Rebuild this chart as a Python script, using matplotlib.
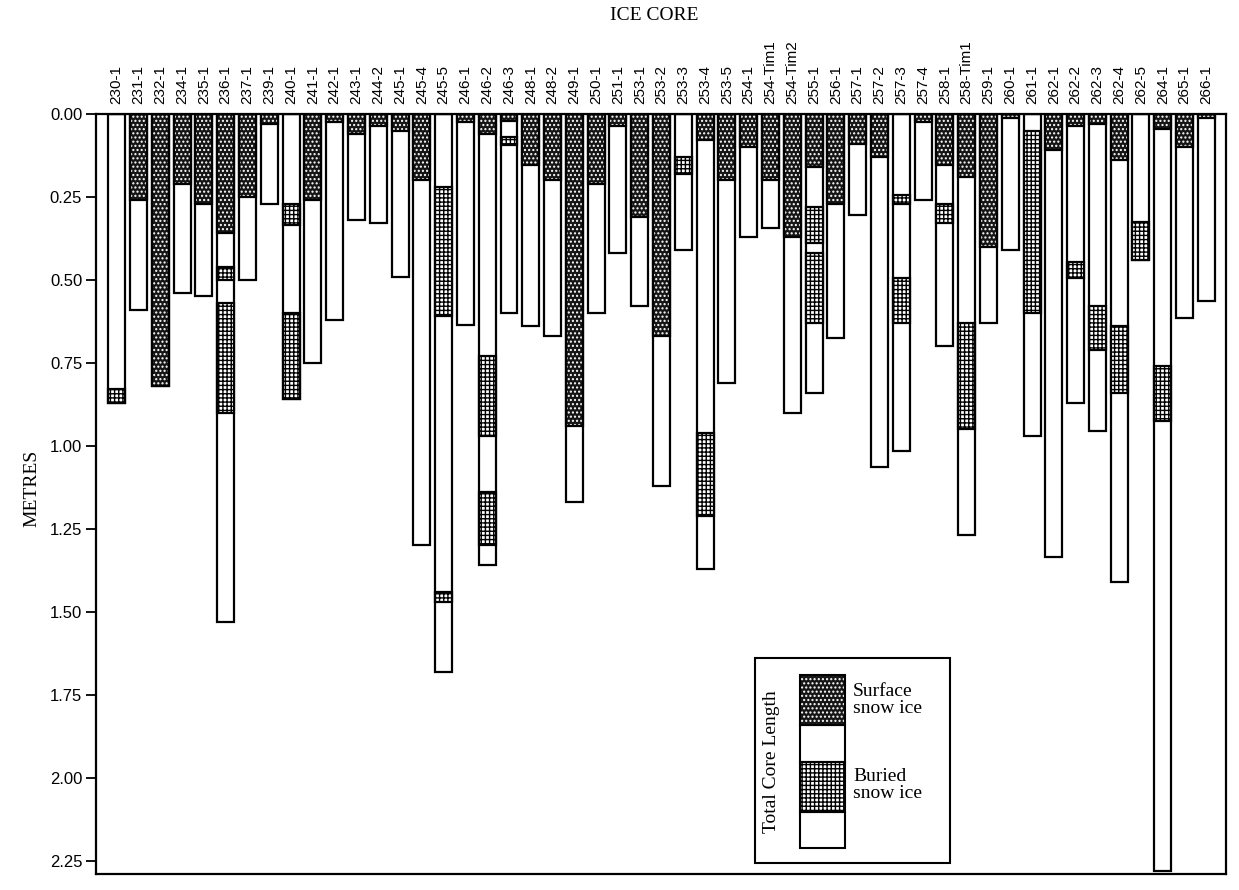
import matplotlib
matplotlib.use("Agg")
import matplotlib.pyplot as plt
from matplotlib.patches import Rectangle
import numpy as np

plt.rcParams['hatch.linewidth'] = 1.0

cores = ['230-1', '231-1', '232-1', '234-1', '235-1', '236-1', '237-1', '239-1',
         '240-1', '241-1', '242-1', '243-1', '244-2', '245-1', '245-4', '245-5',
         '246-1', '246-2', '246-3', '248-1', '248-2', '249-1', '250-1', '251-1',
         '253-1', '253-2', '253-3', '253-4', '253-5', '254-1', '254-Tim1', '254-Tim2',
         '255-1', '256-1', '257-1', '257-2', '257-3', '257-4', '258-1', '258-Tim1',
         '259-1', '260-1', '261-1', '262-1', '262-2', '262-3', '262-4', '262-5',
         '264-1', '265-1', '266-1']

# total core length (m)
total_length = [0.87, 0.59, 0.82, 0.54, 0.55, 1.53, 0.50, 0.27,
                0.86, 0.75, 0.62, 0.32, 0.33, 0.49, 1.30, 1.68,
                0.635, 1.36, 0.60, 0.64, 0.67, 1.17, 0.60, 0.42,
                0.58, 1.12, 0.41, 1.37, 0.81, 0.37, 0.345, 0.90,
                0.84, 0.675, 0.305, 1.065, 1.015, 0.26, 0.70, 1.27,
                0.63, 0.41, 0.97, 1.335, 0.87, 0.955, 1.41, 0.44,
                2.28, 0.615, 0.565]

# thickness of surface snow ice at the top of each core (m)
surface_ice = [0.0, 0.26, 0.82, 0.21, 0.27, 0.36, 0.25, 0.03,
               0.0, 0.26, 0.025, 0.06, 0.035, 0.05, 0.20, 0.0,
               0.025, 0.06, 0.02, 0.155, 0.20, 0.94, 0.21, 0.035,
               0.31, 0.67, 0.0, 0.08, 0.20, 0.10, 0.20, 0.37,
               0.16, 0.27, 0.09, 0.13, 0.0, 0.025, 0.155, 0.19,
               0.40, 0.013, 0.0, 0.11, 0.035, 0.03, 0.14, 0.0,
               0.045, 0.10, 0.012]

# buried snow ice layers (top, bottom) in metres
buried_ice = {
    '230-1': [(0.83, 0.87)],
    '236-1': [(0.46, 0.50), (0.57, 0.90)],
    '240-1': [(0.27, 0.335), (0.60, 0.86)],
    '245-5': [(0.22, 0.61), (1.44, 1.47)],
    '246-2': [(0.73, 0.97), (1.14, 1.30)],
    '246-3': [(0.07, 0.095)],
    '253-3': [(0.13, 0.18)],
    '253-4': [(0.96, 1.21)],
    '255-1': [(0.28, 0.39), (0.42, 0.63)],
    '257-3': [(0.245, 0.27), (0.495, 0.63)],
    '258-1': [(0.27, 0.33)],
    '258-Tim1': [(0.63, 0.95)],
    '261-1': [(0.05, 0.60)],
    '262-2': [(0.445, 0.495)],
    '262-3': [(0.58, 0.71)],
    '262-4': [(0.64, 0.84)],
    '262-5': [(0.325, 0.44)],
    '264-1': [(0.76, 0.925)],
}

SURF_FACE = '#151515'
SURF_HATCH = '....'
BUR_HATCH = '++++'
BAR_W = 0.78
LW = 1.6

fig = plt.figure(figsize=(12.39, 8.9), dpi=100)
ax = fig.add_axes([0.0775, 0.018, 0.912, 0.854])

x = np.arange(len(cores))

# whole core, white
ax.bar(x, total_length, width=BAR_W, color='white', edgecolor='black', linewidth=LW, zorder=2)

# surface snow ice
ax.bar(x, surface_ice, width=BAR_W, facecolor=SURF_FACE, edgecolor='white',
       hatch=SURF_HATCH, linewidth=0, zorder=3)
ax.bar(x, surface_ice, width=BAR_W, fill=False, edgecolor='black', linewidth=LW, zorder=4)

# buried snow ice
for i, name in enumerate(cores):
    for top, bot in buried_ice.get(name, []):
        ax.bar(i, bot - top, bottom=top, width=BAR_W, facecolor='white',
               edgecolor='black', hatch=BUR_HATCH, linewidth=0, zorder=3)
        ax.bar(i, bot - top, bottom=top, width=BAR_W, fill=False,
               edgecolor='black', linewidth=LW, zorder=4)

ax.set_ylim(2.29, 0)
ax.set_xlim(-0.95, 50.9)

ax.xaxis.tick_top()
ax.set_xticks(x)
ax.set_xticklabels(cores, rotation=90, fontsize=11, family='Liberation Sans')
ax.tick_params(axis='x', length=0, pad=7)

yt = np.arange(0, 2.26, 0.25)
ax.set_yticks(yt)
ax.set_yticklabels(['%.2f' % v for v in yt], fontsize=12, family='Liberation Sans')
ax.tick_params(axis='y', direction='out', length=7, width=1.3, pad=3)

for s in ax.spines.values():
    s.set_linewidth(1.6)

fig.text(0.528, 1 - 15 / 890, 'ICE CORE', ha='center', va='center',
         fontsize=14, family='Liberation Serif')
fig.text(32 / 1239, 1 - 488 / 890, 'METRES', ha='center', va='center',
         rotation=90, fontsize=14, family='Liberation Serif')

# legend box
tA = ax.transAxes
ax.add_patch(Rectangle((0.583, 0.014), 0.173, 0.270, transform=tA, fill=False,
                       edgecolor='black', linewidth=1.5, zorder=5))
ax.add_patch(Rectangle((0.623, 0.196), 0.040, 0.066, transform=tA, facecolor=SURF_FACE,
                       edgecolor='white', hatch=SURF_HATCH, linewidth=0, zorder=5))
ax.add_patch(Rectangle((0.623, 0.082), 0.040, 0.065, transform=tA, facecolor='white',
                       edgecolor='black', hatch=BUR_HATCH, linewidth=0, zorder=5))
for y0, h in [(0.196, 0.066), (0.147, 0.049), (0.082, 0.065), (0.034, 0.048)]:
    ax.add_patch(Rectangle((0.623, y0), 0.040, h, transform=tA, fill=False,
                           edgecolor='black', linewidth=1.5, zorder=6))
ax.text(0.598, 0.148, 'Total Core Length', transform=tA, rotation=90, ha='center',
        va='center', fontsize=14, family='Liberation Serif')
ax.text(0.670, 0.229, 'Surface\nsnow ice', transform=tA, ha='left', va='center',
        fontsize=14, family='Liberation Serif', linespacing=0.95)
ax.text(0.670, 0.117, 'Buried\nsnow ice', transform=tA, ha='left', va='center',
        fontsize=14, family='Liberation Serif', linespacing=0.95)

fig.savefig('out.png', dpi=100)
